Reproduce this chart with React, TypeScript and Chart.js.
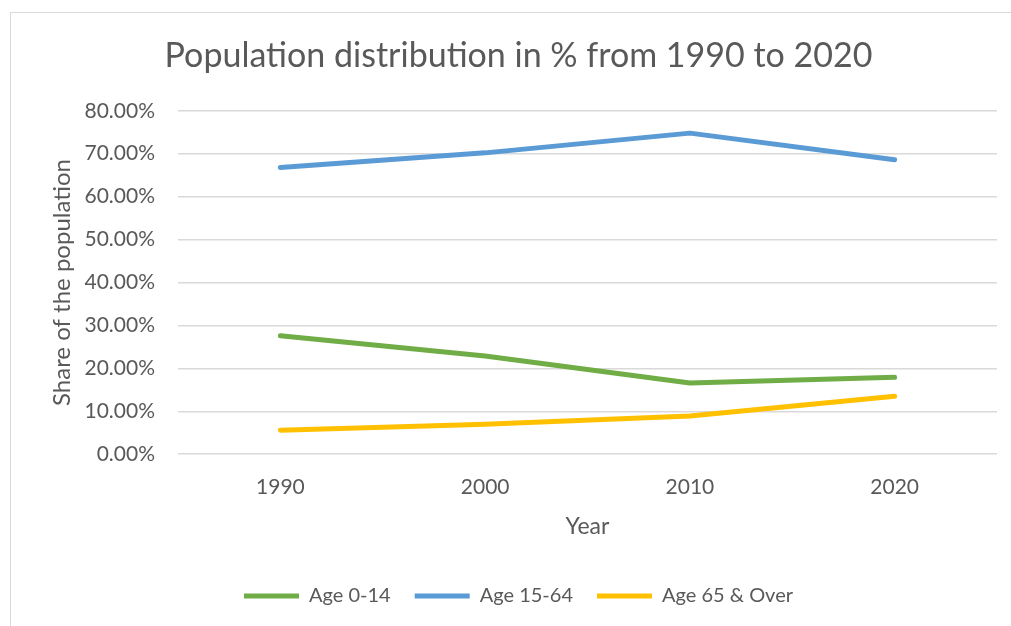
import React, { useEffect, useRef } from "react";
import { Chart, registerables } from "chart.js";

Chart.register(...registerables);

const years = ["1990", "2000", "2010", "2020"];
const age0to14 = [27.6, 22.9, 16.6, 17.9];
const age15to64 = [66.8, 70.2, 74.8, 68.6];
const age65plus = [5.6, 7.0, 8.9, 13.5];
const seriesLabels = ["Age 0-14", "Age 15-64", "Age 65 & Over"];
const seriesColors = ["#70AD47", "#5B9BD5", "#FFC000"];
const yMin = 0;
const yMax = 80;
const yStep = 10;

const titleText = "Population distribution in % from 1990 to 2020";
const yTitle = "Share of the population";
const xTitle = "Year";

const FONT = "Lato, 'Liberation Sans', sans-serif";
const TEXT = "#595959";

export default function App() {
  const ref = useRef<HTMLCanvasElement | null>(null);

  useEffect(() => {
    if (!ref.current) return;
    const series = [age0to14, age15to64, age65plus];
    const chart = new Chart(ref.current, {
      type: "line",
      data: {
        labels: years,
        datasets: series.map((d, i) => ({
          label: seriesLabels[i],
          data: d,
          borderColor: seriesColors[i],
          backgroundColor: seriesColors[i],
          borderWidth: 5,
          borderCapStyle: "round",
          borderJoinStyle: "round",
          pointRadius: 0,
          pointHoverRadius: 0,
          tension: 0,
          fill: false,
        })),
      },
      options: {
        responsive: false,
        animation: false,
        layout: { padding: { left: 40, right: 14, top: 20, bottom: 10 } },
        plugins: {
          tooltip: { enabled: false },
          title: {
            display: true,
            text: titleText,
            color: TEXT,
            font: { family: FONT, size: 34, weight: "normal" },
            padding: { top: 16, bottom: 34 },
          },
          legend: {
            position: "bottom",
            labels: {
              usePointStyle: true,
              pointStyle: "line",
              pointStyleWidth: 55,
              color: TEXT,
              font: { family: FONT, size: 20 },
              padding: 24,
            },
          },
        },
        scales: {
          x: {
            offset: true,
            grid: { display: false },
            border: { display: false },
            ticks: {
              color: TEXT,
              font: { family: FONT, size: 21 },
              padding: 12,
              maxRotation: 0,
            },
            title: {
              display: true,
              text: xTitle,
              color: TEXT,
              font: { family: FONT, size: 23 },
              padding: { top: 1, bottom: 22 },
            },
          },
          y: {
            min: yMin,
            max: yMax,
            afterFit: (scale: any) => {
              scale.width = 138;
            },
            grid: { color: "#D9D9D9", lineWidth: 1.5, drawTicks: false },
            border: { display: false },
            ticks: {
              stepSize: yStep,
              color: TEXT,
              font: { family: FONT, size: 21 },
              padding: 23,
              callback: (v: any) => Number(v).toFixed(2) + "%",
            },
            title: {
              display: true,
              text: yTitle,
              color: TEXT,
              font: { family: FONT, size: 24 },
              padding: { top: 8, bottom: 0 },
            },
          },
        },
      },
    });
    return () => chart.destroy();
  }, []);

  return (
    <div style={{ position: "fixed", left: 0, top: 0, width: 1011, height: 626, background: "#fff", overflow: "hidden" }}>
      <div
        style={{
          position: "absolute",
          left: 10,
          top: 12,
          width: 1020,
          height: 640,
          border: "1px solid #D9D9D9",
          boxSizing: "border-box",
        }}
      />
      <canvas ref={ref} width={1011} height={626} style={{ position: "absolute", left: 0, top: 0 }} />
    </div>
  );
}
